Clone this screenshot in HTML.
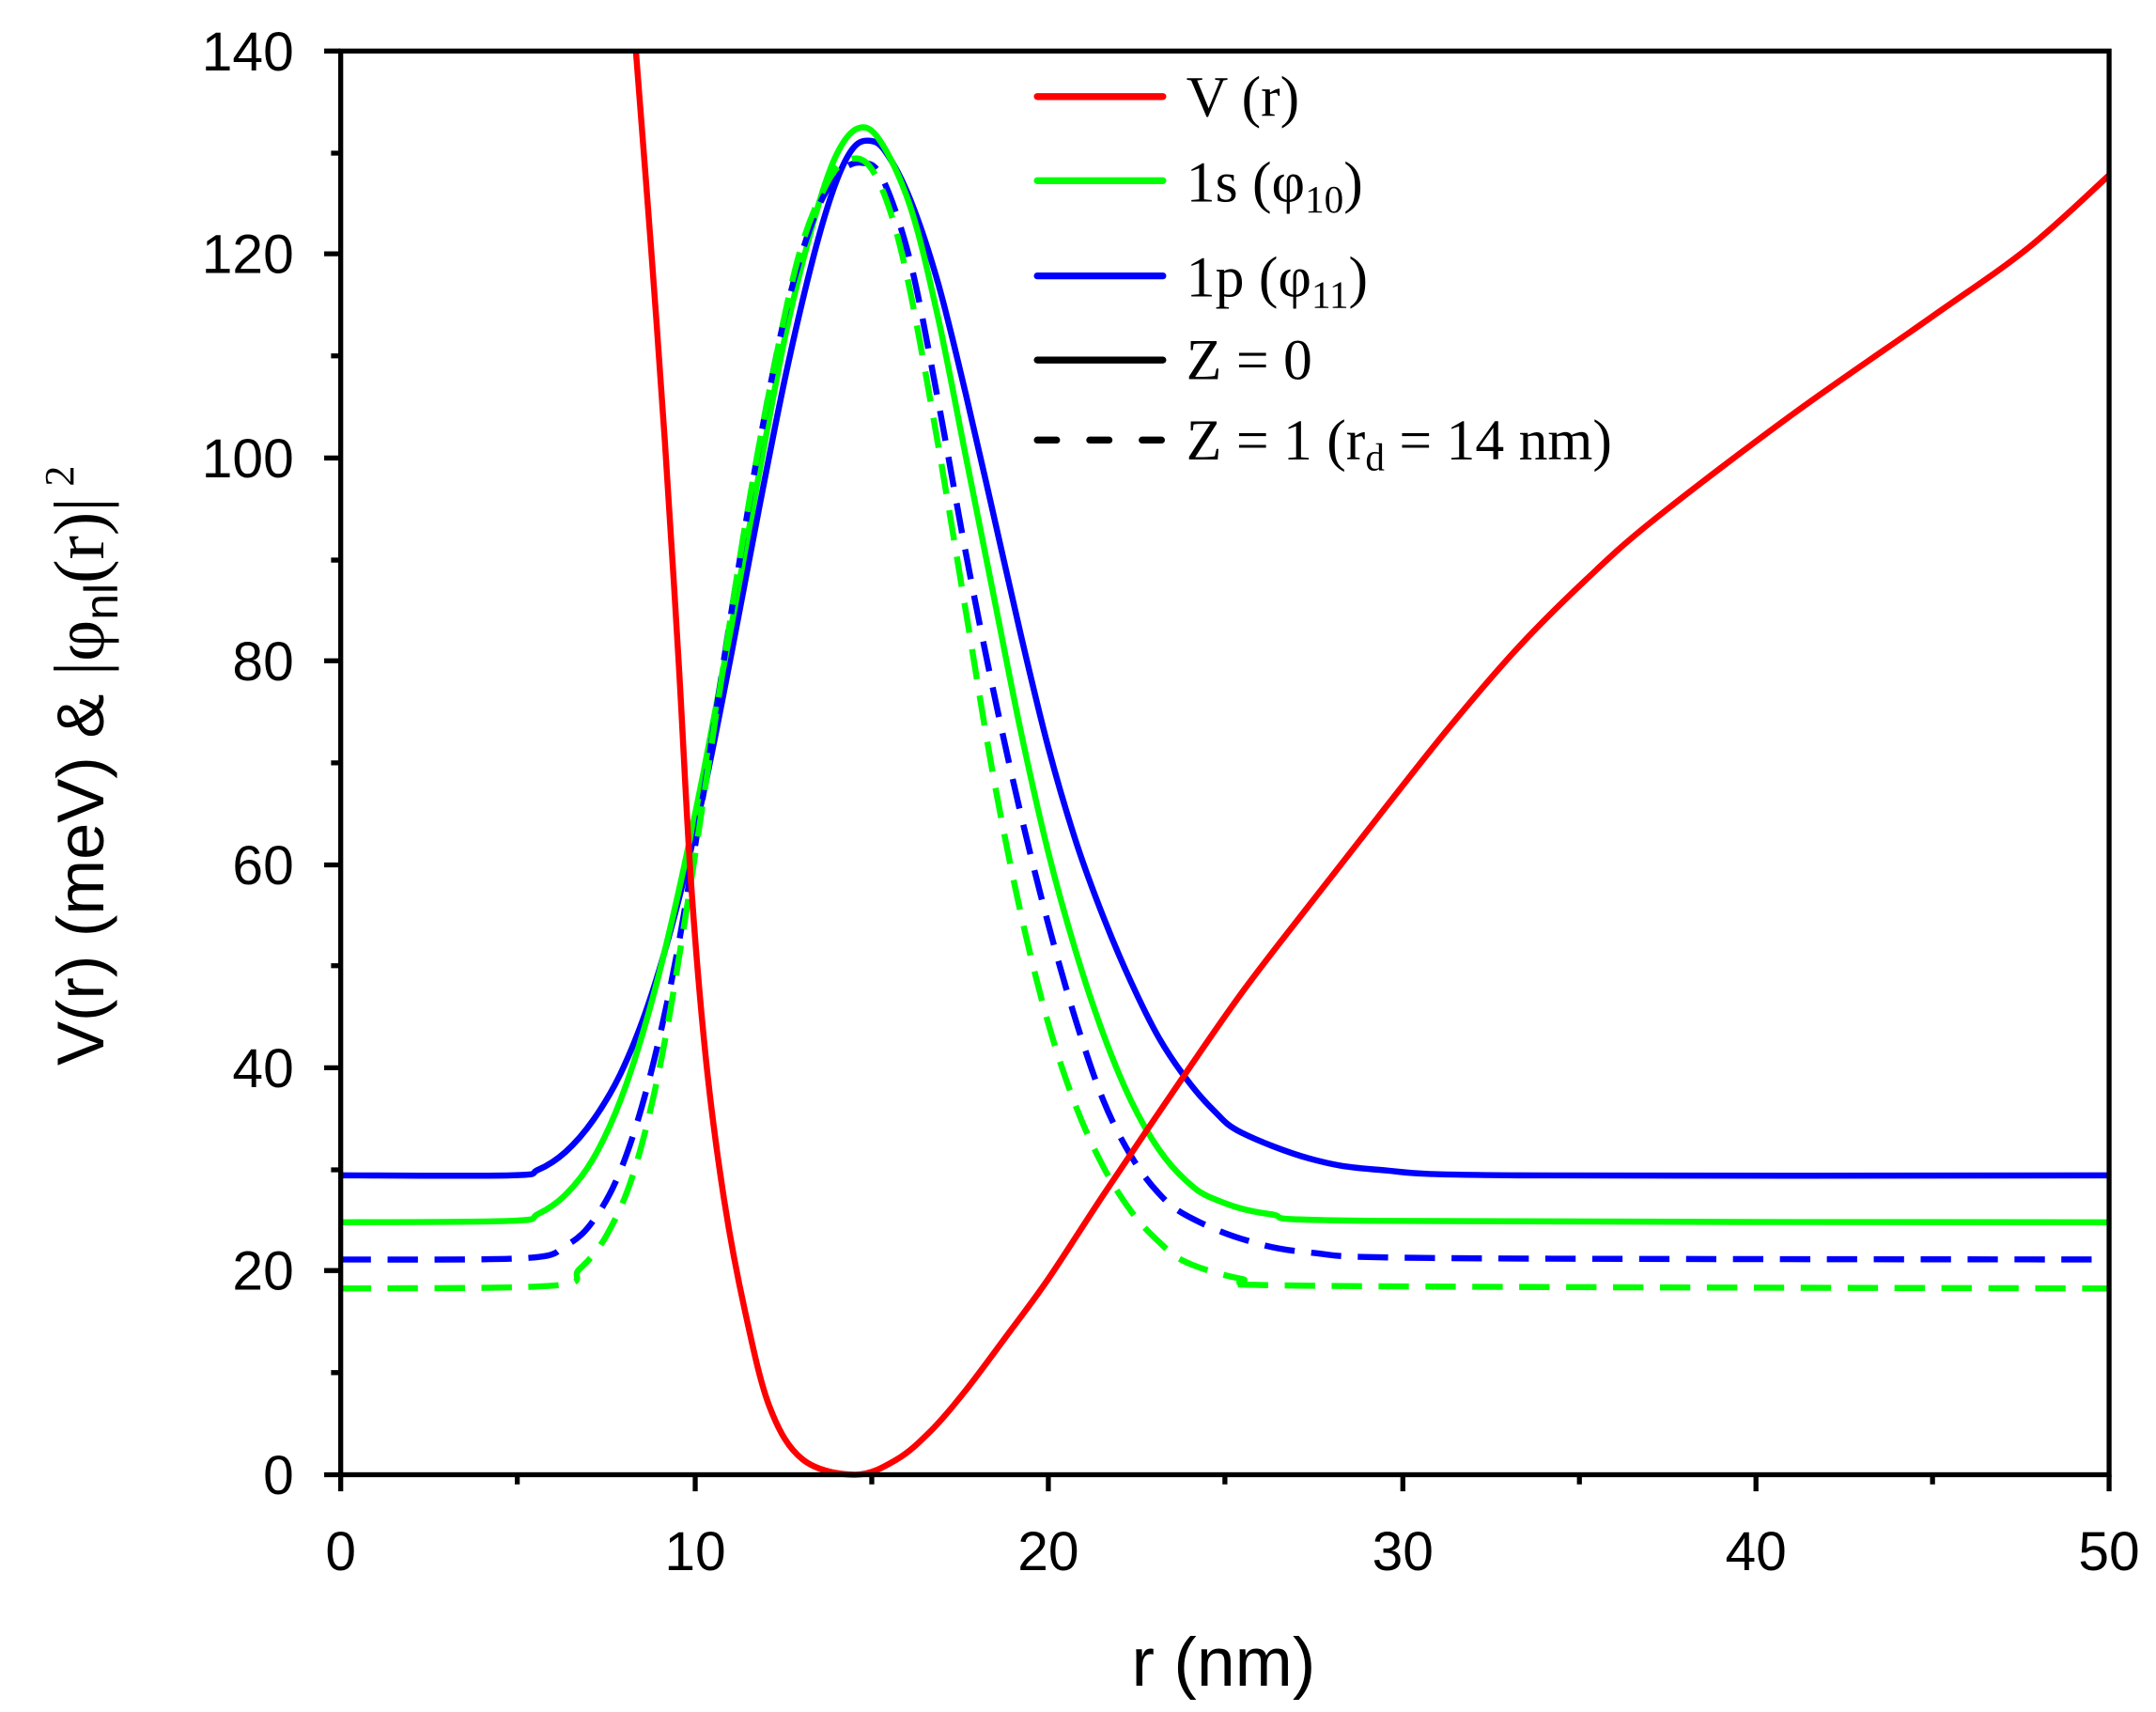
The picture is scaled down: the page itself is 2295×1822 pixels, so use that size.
<!DOCTYPE html>
<html><head><meta charset="utf-8"><style>html,body{margin:0;padding:0;background:#fff}svg{display:block}</style></head>
<body>
<svg id="s" width="2295" height="1822" viewBox="0 0 1563 1241" xmlns="http://www.w3.org/2000/svg" preserveAspectRatio="none">
<rect width="1563" height="1241" fill="#fff"/>
<g fill="none" stroke-width="4.4" stroke-linejoin="round" stroke-linecap="butt">
<polyline stroke="#0000ff" points="247,852 370,852 390,848 410,835 430,812 450,778 470,728 490,660 510,575 530,475 550,370 570,270 590,185 605,135 618,108 630,102 642,110 660,145 680,205 700,285 720,372 740,460 760,542 780,610 800,665 820,712 840,752 860,782 880,805 900,821 950,840 1000,848 1100,852 1529,852"/>
<polyline stroke="#00ff00" points="247,886 370,885 390,880 410,866 430,840 450,797 470,735 490,655 510,560 530,455 550,345 570,240 590,160 606,113 622,93 638,102 660,150 680,230 700,330 720,430 740,530 760,618 780,690 800,750 820,798 840,833 860,856 880,869 920,880 1000,885 1529,886"/>
<polyline stroke="#0000ff" stroke-dasharray="22,12" points="247,913 380,912 410,903 430,885 450,848 470,785 490,695 510,575 530,445 550,325 570,225 590,158 608,126 625,118 640,130 660,190 680,290 700,400 720,500 740,590 760,670 780,740 800,798 820,838 840,865 860,881 900,898 950,908 1050,912 1529,913"/>
<polyline stroke="#00ff00" stroke-dasharray="22,12" points="247,934 400,932 420,920 440,895 460,848 480,765 500,645 520,512 540,382 560,272 580,182 600,132 615,116 630,120 645,152 660,212 680,322 700,442 720,562 740,662 760,742 780,802 800,846 820,878 840,900 860,915 900,927 950,932 1529,934"/>
<polyline stroke="#ff0000" points="461,37 472,180 482,320 492,480 501,640 512,770 525,870 540,950 558,1020 582,1058 620,1069 650,1058 675,1037 700,1008 730,968 760,927 800,866 850,792 900,720 950,655 1000,591 1050,528 1100,470 1150,420 1200,376 1300,300 1400,230 1470,180 1529,127"/>
</g>
<g stroke="#000" stroke-width="3.6" fill="none">
<rect x="247" y="37" width="1282" height="1032"/>
<path d="M247,1069v12 M375,1069v7 M504,1069v12 M632,1069v7 M760,1069v12 M888,1069v7 M1017,1069v12 M1145,1069v7 M1273,1069v12 M1401,1069v7 M1529,1069v12"/>
<path d="M247,1069h-12 M247,995h-7 M247,921h-12 M247,848h-7 M247,774h-12 M247,700h-7 M247,627h-12 M247,553h-7 M247,479h-12 M247,406h-7 M247,332h-12 M247,258h-7 M247,184h-12 M247,111h-7 M247,37h-12"/>
</g>
<g font-family="Liberation Sans, Arial, sans-serif" font-size="40" fill="#000">
<g text-anchor="end">
<text x="213" y="1083">0</text><text x="213" y="935">20</text><text x="213" y="788">40</text><text x="213" y="641">60</text><text x="213" y="493">80</text><text x="213" y="346">100</text><text x="213" y="198">120</text><text x="213" y="51">140</text>
</g>
<g text-anchor="middle">
<text x="247" y="1138">0</text><text x="504" y="1138">10</text><text x="760" y="1138">20</text><text x="1017" y="1138">30</text><text x="1273" y="1138">40</text><text x="1529" y="1138">50</text>
<text x="887" y="1222" font-size="50">r (nm)</text>
</g>
<text transform="translate(75,555) rotate(-90)" text-anchor="middle" font-size="48">V(r) (meV) &amp; <tspan font-family="Liberation Serif, serif" font-size="52">|φ</tspan><tspan font-size="34" dy="10">nl</tspan><tspan font-family="Liberation Serif, serif" font-size="52" dy="-10">(r)|</tspan><tspan font-family="Liberation Serif, serif" font-size="30" dx="8" dy="-22">2</tspan></text>
</g>
<g stroke-width="5" stroke-linecap="round">
<line x1="752" y1="70" x2="843" y2="70" stroke="#ff0000"/>
<line x1="752" y1="131" x2="843" y2="131" stroke="#00ff00"/>
<line x1="752" y1="200" x2="843" y2="200" stroke="#0000ff"/>
<line x1="752" y1="261" x2="843" y2="261" stroke="#000"/>
<line x1="752" y1="319" x2="843" y2="319" stroke="#000" stroke-dasharray="14,24"/>
</g>
<g font-family="Liberation Serif, serif" font-size="42" fill="#000">
<text x="860" y="84">V (r)</text>
<text x="860" y="146">1s (φ<tspan font-size="28" dy="8">10</tspan><tspan dy="-8">)</tspan></text>
<text x="860" y="215">1p (φ<tspan font-size="28" dy="8">11</tspan><tspan dy="-8">)</tspan></text>
<text x="860" y="275">Z = 0</text>
<text x="860" y="333">Z = 1 (r<tspan font-size="28" dy="8">d</tspan><tspan dy="-8"> = 14 nm)</tspan></text>
</g>
</svg>
<script>
document.querySelectorAll('polyline').forEach(function(pl){
  var p=pl.getAttribute('points').trim().split(/\s+/).map(function(s){return s.split(',').map(Number);});
  var d='M'+p[0][0]+','+p[0][1];
  for(var i=0;i<p.length-1;i++){
    var p0=p[i-1]||p[i],p1=p[i],p2=p[i+1],p3=p[i+2]||p2;
    var c1=[p1[0]+(p2[0]-p0[0])/6,p1[1]+(p2[1]-p0[1])/6];
    var c2=[p2[0]-(p3[0]-p1[0])/6,p2[1]-(p3[1]-p1[1])/6];
    d+=' C'+c1.join(',')+' '+c2.join(',')+' '+p2.join(',');
  }
  var path=document.createElementNS('http://www.w3.org/2000/svg','path');
  for(var k=0;k<pl.attributes.length;k++){var a=pl.attributes[k];if(a.name!=='points')path.setAttribute(a.name,a.value);}
  path.setAttribute('d',d);
  pl.parentNode.replaceChild(path,pl);
});
</script>
</body></html>
